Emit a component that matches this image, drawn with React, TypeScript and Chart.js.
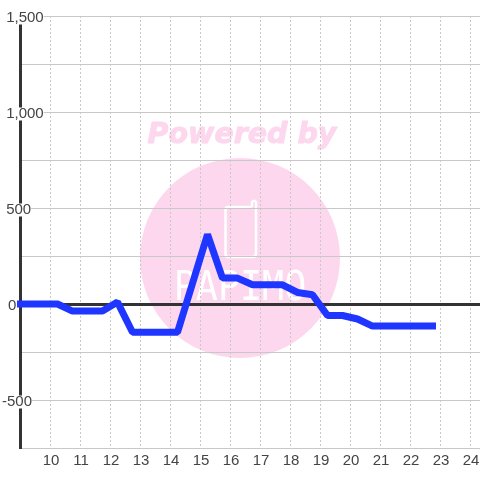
import React, { useEffect, useRef } from "react";
import { Chart, registerables } from "chart.js";

Chart.register(...registerables);

const hours = [8.75, 10.25, 10.75, 11.75, 12.25, 12.75, 14.25, 15.25, 15.75, 16.25, 16.75, 17.75, 18.25, 18.75, 19.25, 19.75, 20.25, 20.75, 22.75];
const values = [0, 0, -37, -37, 10, -147, -147, 362, 135, 135, 100, 100, 60, 48, -60, -60, -78, -115, -115];
const yTickValues = [-750, -500, -250, 0, 250, 500, 750, 1000, 1250, 1500];
const yLabels: Record<string, string> = {
  "-500": "-500",
  "0": "\u2009\u20090",
  "500": " 500",
  "1000": " 1,000",
  "1500": " 1,500",
};
const xMin = 9;
const xMax = 24.3333;
const watermarkTitle = "Powered by";
const watermarkName = "PAPIMO";

const watermark = {
  id: "watermark",
  beforeDraw(chart: any) {
    const c = chart.ctx;
    c.save();
    c.fillStyle = "#fff";
    c.fillRect(0, 0, chart.width, chart.height);
    c.fillStyle = "#fcd7ee";
    c.beginPath();
    c.arc(240, 258, 100, 0, Math.PI * 2);
    c.fill();
    c.font = "italic bold 28.5px 'DejaVu Sans'";
    c.textAlign = "center";
    c.textBaseline = "middle";
    c.fillText(watermarkTitle, 242, 136);
    c.strokeStyle = "#fcd7ee";
    c.lineWidth = 1;
    c.lineJoin = "round";
    c.strokeText(watermarkTitle, 242, 136);
    c.strokeStyle = "#fff";
    c.lineWidth = 2.5;
    c.beginPath();
    c.moveTo(252, 207);
    c.lineTo(228, 207);
    c.quadraticCurveTo(225.5, 207, 225.5, 210);
    c.lineTo(225.5, 254);
    c.quadraticCurveTo(225.5, 257, 228, 257);
    c.lineTo(253, 257);
    c.quadraticCurveTo(256, 257, 256, 254);
    c.lineTo(256, 202);
    c.quadraticCurveTo(254, 199.5, 252, 202);
    c.lineTo(252, 207);
    c.stroke();
    c.font = "36px 'DejaVu Sans Mono'";
    c.fillStyle = "#fff";
    c.translate(240, 289);
    c.scale(1.02, 1.15);
    c.fillText(watermarkName, 0, 0);
    c.restore();
  },
};

export default function App() {
  const ref = useRef<HTMLCanvasElement>(null);
  useEffect(() => {
    document.body.style.margin = "0";
    const chart = new Chart(ref.current!, {
      type: "line",
      data: {
        datasets: [
          {
            data: hours.map((h, i) => ({ x: h, y: values[i] })),
            borderColor: "#1e36ff",
            borderWidth: 7,
            borderCapStyle: "square",
            borderJoinStyle: "bevel",
            pointRadius: 0,
            tension: 0,
            clip: 3,
          },
        ],
      },
      options: {
        responsive: false,
        animation: false,
        layout: { padding: { top: 16, left: 0, right: 0, bottom: 0 } },
        plugins: { legend: { display: false }, tooltip: { enabled: false } },
        scales: {
          x: {
            type: "linear",
            min: xMin,
            max: xMax,
            afterBuildTicks(s: any) {
              s.ticks = [];
              for (let h = 10; h <= 24; h++) s.ticks.push({ value: h });
            },
            afterFit(s: any) {
              s.height = 32;
              s.paddingLeft = 0;
              s.paddingRight = 0;
            },
            border: { display: false, dash: [2, 2] },
            grid: { color: "#c8c8c8", lineWidth: 1, drawTicks: false },
            ticks: {
              color: "#444",
              font: { family: "'Liberation Sans'", size: 15 },
              padding: 4,
              labelOffset: 1,
              maxRotation: 0,
              autoSkip: false,
              callback: (v: any) => String(v),
            },
          },
          y: {
            min: -750,
            max: 1500,
            position: "left",
            afterBuildTicks(s: any) {
              s.ticks = yTickValues.map((value) => ({ value }));
            },
            afterFit(s: any) {
              s.width = 20;
              s.paddingTop = 0;
              s.paddingBottom = 0;
            },
            border: { display: true, color: "#333", width: 3 },
            grid: {
              color: (ctx: any) => (ctx.tick?.value === 0 ? "#333" : "#c8c8c8"),
              lineWidth: (ctx: any) => (ctx.tick?.value === 0 ? 3 : 1),
              drawTicks: false,
            },
            ticks: {
              color: "#444",
              font: { family: "'Liberation Sans'", size: 15, lineHeight: "13px" },
              mirror: true,
              padding: -18,
              labelOffset: 2,
              autoSkip: false,
              showLabelBackdrop: true,
              backdropColor: (ctx: any) => (yLabels[String(ctx.tick?.value)] ? "#fff" : "rgba(0,0,0,0)"),
              backdropPadding: 0,
              callback: (v: any) => yLabels[String(v)] ?? "",
            },
          },
        },
      },
      plugins: [watermark],
    } as any);
    return () => chart.destroy();
  }, []);
  return <canvas ref={ref} width={480} height={480} style={{ display: "block" }} />;
}
